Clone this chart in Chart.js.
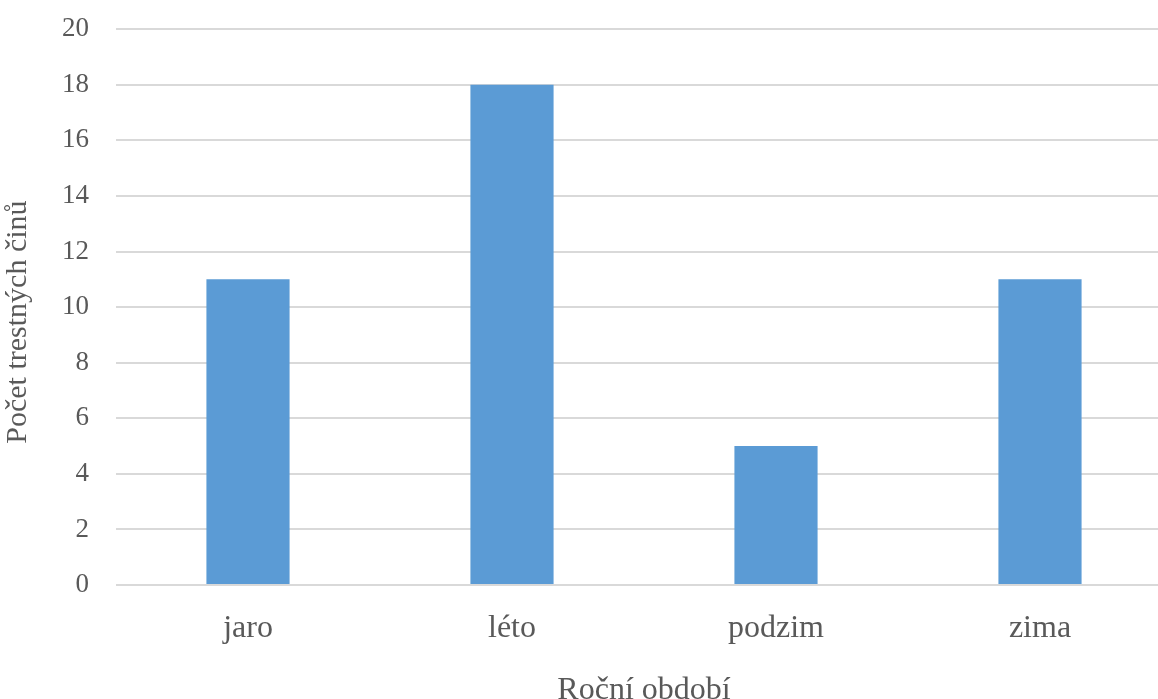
<!DOCTYPE html>
<html>
<head>
<meta charset="utf-8">
<script src="https://cdn.jsdelivr.net/npm/chart.js@4/dist/chart.umd.min.js"></script>
<style>
    html, body { margin: 0; padding: 0; background: #fff; overflow: hidden; }
    #wrap { position: relative; width: 1158px; height: 699px; overflow: hidden; }
    /* the plot runs a little past the right and top edge of the picture */
    #chart { position: absolute; left: 0; top: -14px; }
</style>
</head>
<body>
<div id="wrap"><canvas id="chart" width="1172" height="713"></canvas></div>
<script>
// Data
const seasons = ['jaro', 'léto', 'podzim', 'zima'];
const crimeCounts = [11, 18, 5, 11];
const yTicks = [0, 2, 4, 6, 8, 10, 12, 14, 16, 18, 20];

const serif = '"Liberation Serif", "Times New Roman", serif';
const textColor = '#595959';

let ctx = document.getElementById('chart');
new Chart(ctx, {
    type: 'bar',
    data: {
        labels: seasons,
        datasets: [{
            label: 'Počet trestných činů',
            data: crimeCounts,
            backgroundColor: '#5b9bd5',
            borderWidth: 0,
            categoryPercentage: 1,
            barPercentage: 0.315
        }]
    },
    options: {
        responsive: false,
        animation: false,
        layout: { padding: 0 },
        plugins: {
            legend: { display: false },
            tooltip: { enabled: false }
        },
        scales: {
            x: {
                grid: { display: false, drawTicks: false },
                border: { display: false },
                ticks: {
                    color: textColor,
                    padding: 24,
                    font: { family: serif, size: 32 }
                },
                title: {
                    display: true,
                    text: 'Roční období',
                    color: textColor,
                    padding: { top: 20, bottom: -11 },
                    font: { family: serif, size: 32 }
                },
                afterFit: (scale) => { scale.height = 114; }
            },
            y: {
                min: yTicks[0],
                max: yTicks[yTicks.length - 1],
                afterBuildTicks: (scale) => { scale.ticks = yTicks.map(v => ({ value: v })); },
                grid: { color: '#d9d9d9', lineWidth: 2, drawTicks: false },
                border: { display: false },
                ticks: {
                    color: textColor,
                    padding: 27,
                    font: { family: serif, size: 27 }
                },
                title: {
                    display: true,
                    // trailing spaces nudge the centred title a bit lower
                    text: 'Počet trestných činů\u00a0\u00a0\u00a0\u00a0',
                    color: textColor,
                    padding: { top: 0, bottom: 2 },
                    font: { family: serif, size: 30 }
                },
                afterFit: (scale) => { scale.width = 116; }
            }
        }
    }
});
</script>
</body>
</html>
